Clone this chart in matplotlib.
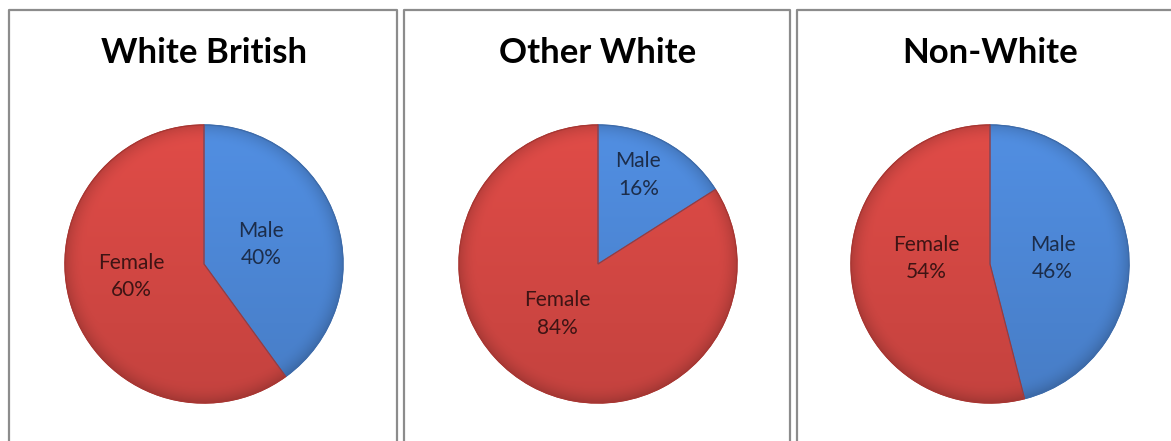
import numpy as np
import matplotlib.pyplot as plt
from matplotlib.colors import to_rgb

# data
groups = ['White British', 'Other White', 'Non-White']
categories = ['Male', 'Female']
male_pct = [40, 16, 46]
female_pct = [60, 84, 54]

# label centres in pie-radius units, [male, female] per group (layout only)
label_xy = [[(0.41, 0.14), (-0.52, -0.09)],
            [(0.29, 0.64), (-0.29, -0.36)],
            [(0.45, 0.04), (-0.46, 0.04)]]

W, H = 1171, 441
fig = plt.figure(figsize=(W / 100, H / 100), dpi=100)

colors = ['#4A82CE', '#CC4541']
edge_colors = ['#3D6BAA', '#A83632']
text_colors = ['#1C2D4A', '#3E1414']

# panel frames (pixels): left, right
panels = [(9, 397), (404, 790), (797, 1190)]
pie_cx = [204, 598, 990]
pie_cy = 264
pie_r = 139
top = 10

for px0, px1 in panels:
    # no bottom edge; right edge of last panel runs off the picture
    x0, x1 = px0 / W, px1 / W
    y0, y1 = -0.05, 1 - top / H
    fig.add_artist(plt.Line2D([x0, x0, x1, x1], [y0, y1, y1, y0],
                              transform=fig.transFigure, color='#8C8C8C', lw=1.6))

# shading for the "3D" look: lighter at the top, darker rim
gx, gy = np.meshgrid(np.linspace(-1, 1, 400), np.linspace(1, -1, 400))
rr = np.hypot(gx, gy)
shade = 1.03 + 0.07 * gy - 0.16 * np.clip((rr - 0.86) / 0.14, 0, 1) ** 2

half = 150
lim = half / pie_r
for i, g in enumerate(groups):
    ax = fig.add_axes([(pie_cx[i] - half) / W, (H - pie_cy - half) / H,
                       2 * half / W, 2 * half / H])
    vals = [male_pct[i], female_pct[i]]
    wedges, _ = ax.pie(vals, colors=colors, startangle=90, counterclock=False,
                       wedgeprops=dict(linewidth=1.0))
    for j, w in enumerate(wedges):
        w.set_edgecolor(edge_colors[j])
        img = np.clip(np.array(to_rgb(colors[j]))[None, None, :] * shade[:, :, None], 0, 1)
        im = ax.imshow(img, extent=(-1, 1, -1, 1), zorder=w.get_zorder() + 0.1,
                       interpolation='bilinear')
        im.set_clip_path(w)
        lx, ly = label_xy[i][j]
        ax.text(lx, ly, f'{categories[j]}\n{vals[j]}%',
                ha='center', va='center', fontsize=15, family='Lato',
                color=text_colors[j], linespacing=1.45, zorder=5)
    # thin boundary lines between slices, drawn on top of the shading
    for w in wedges:
        w2 = plt.matplotlib.patches.Wedge(w.center, w.r, w.theta1, w.theta2,
                                          fill=False, ec=w.get_edgecolor(), lw=0.8, zorder=4)
        ax.add_patch(w2)
    ax.set_xlim(-lim, lim)
    ax.set_ylim(-lim, lim)
    ax.set_aspect('equal')
    ax.axis('off')

    fig.text(pie_cx[i] / W, 1 - 63 / H, g, ha='center', va='baseline',
             fontsize=25, fontweight='bold', family='Lato', color='black')

fig.savefig('out.png', dpi=100, facecolor='white')
